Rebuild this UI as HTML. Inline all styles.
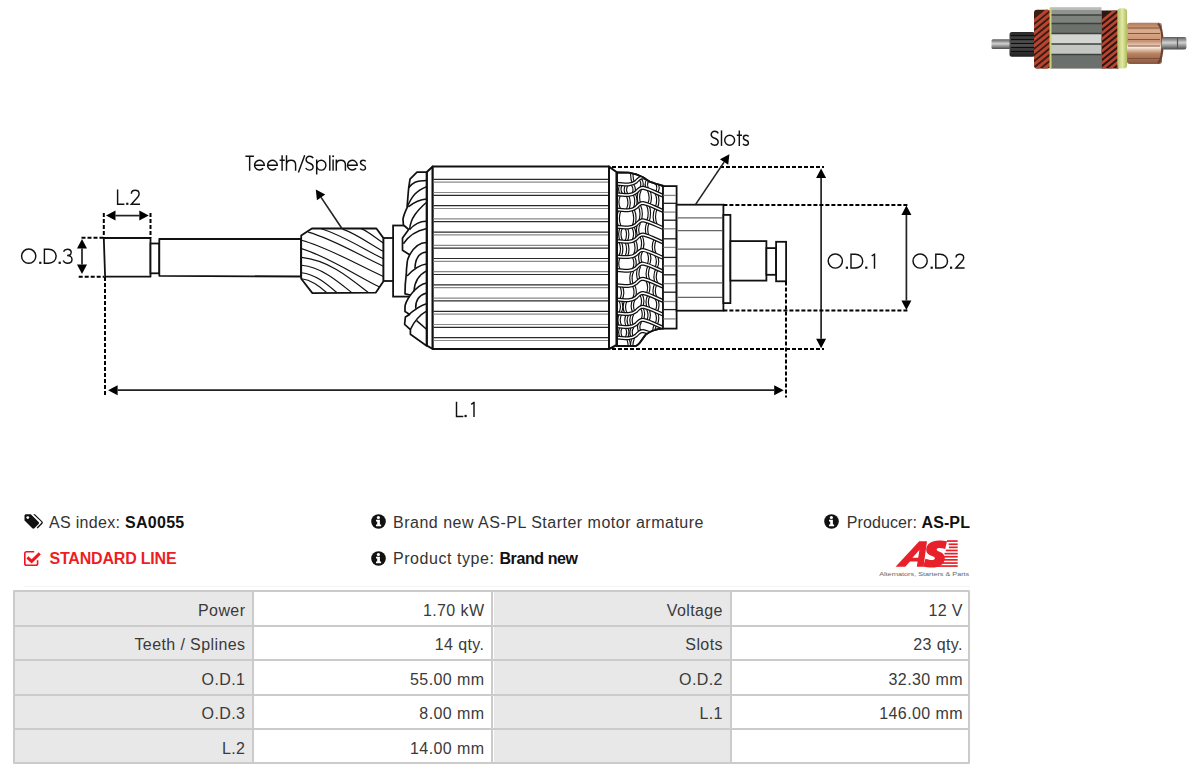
<!DOCTYPE html>
<html><head><meta charset="utf-8"><title>SA0055</title>
<style>
html,body{margin:0;padding:0;background:#fff;width:1196px;height:776px;overflow:hidden;position:relative;font-family:"Liberation Sans",sans-serif}
.t{position:absolute;white-space:nowrap;font-size:16px;line-height:17px;color:#333}
.t b{color:#111}
.tc{position:absolute;white-space:nowrap;font-size:16px;line-height:17px;color:#3a3a3a;letter-spacing:0.4px;margin-right:-0.4px}
svg text{font-family:"Liberation Sans",sans-serif;fill:#111;stroke:#fff;stroke-width:0.25px}
</style></head><body>
<svg width="1196" height="80" style="position:absolute;left:0;top:0">
<defs>
<linearGradient id="sh" x1="0" y1="0" x2="0" y2="1"><stop offset="0" stop-color="#5d5d5d"/><stop offset="0.45" stop-color="#d0d0d0"/><stop offset="1" stop-color="#4a4a4a"/></linearGradient>
<linearGradient id="cu" x1="0" y1="0" x2="0" y2="1"><stop offset="0" stop-color="#b07a5a"/><stop offset="0.2" stop-color="#dcae8e"/><stop offset="0.45" stop-color="#c89272"/><stop offset="0.6" stop-color="#f6e8dc"/><stop offset="0.75" stop-color="#b8825f"/><stop offset="1" stop-color="#8a5840"/></linearGradient>
<linearGradient id="pin" x1="0" y1="0" x2="0" y2="1"><stop offset="0" stop-color="#2a2a2a"/><stop offset="0.5" stop-color="#555"/><stop offset="1" stop-color="#1e1e1e"/></linearGradient>
<linearGradient id="gr" x1="0" y1="0" x2="1" y2="0"><stop offset="0" stop-color="#b3c064"/><stop offset="0.5" stop-color="#e2eaa8"/><stop offset="1" stop-color="#b0bc5e"/></linearGradient>
</defs>
<rect x="991.5" y="39.3" width="19" height="9.8" rx="1.5" fill="url(#sh)"/>
<rect x="1009.5" y="32" width="25.5" height="24.7" rx="2.5" fill="url(#pin)"/>
<line x1="1011" y1="35.5" x2="1035" y2="35.5" stroke="#0e0e0e" stroke-width="1.2"/>
<line x1="1011" y1="39.5" x2="1035" y2="39.5" stroke="#0e0e0e" stroke-width="1.2"/>
<line x1="1011" y1="43.5" x2="1035" y2="43.5" stroke="#0e0e0e" stroke-width="1.2"/>
<line x1="1011" y1="47.5" x2="1035" y2="47.5" stroke="#0e0e0e" stroke-width="1.2"/>
<line x1="1011" y1="51.5" x2="1035" y2="51.5" stroke="#0e0e0e" stroke-width="1.2"/>
<clipPath id="lwc"><rect x="1034" y="9.8" width="16.5" height="58.8" rx="3"/></clipPath><clipPath id="rwc2"><rect x="1101.5" y="10.5" width="17" height="58"/></clipPath>
<rect x="1034" y="9.8" width="16.5" height="58.8" rx="3" fill="#3c1c15"/>
<g clip-path="url(#lwc)">
<path d="M1034,21.0 L1050,8.0" stroke="#b8452f" stroke-width="3" stroke-linecap="round"/>
<path d="M1034,27.2 L1050,14.2" stroke="#b8452f" stroke-width="3" stroke-linecap="round"/>
<path d="M1034,33.4 L1050,20.4" stroke="#b8452f" stroke-width="3" stroke-linecap="round"/>
<path d="M1034,39.6 L1050,26.6" stroke="#b8452f" stroke-width="3" stroke-linecap="round"/>
<path d="M1034,45.8 L1050,32.8" stroke="#b8452f" stroke-width="3" stroke-linecap="round"/>
<path d="M1034,52.0 L1050,39.0" stroke="#b8452f" stroke-width="3" stroke-linecap="round"/>
<path d="M1034,58.2 L1050,45.2" stroke="#b8452f" stroke-width="3" stroke-linecap="round"/>
<path d="M1034,64.4 L1050,51.4" stroke="#b8452f" stroke-width="3" stroke-linecap="round"/>
<path d="M1034,70.6 L1050,57.6" stroke="#b8452f" stroke-width="3" stroke-linecap="round"/>
<path d="M1034,76.8 L1050,63.8" stroke="#b8452f" stroke-width="3" stroke-linecap="round"/>
<path d="M1034,83.0 L1050,70.0" stroke="#b8452f" stroke-width="3" stroke-linecap="round"/>
</g>
<rect x="1050" y="7.2" width="51.5" height="2.8" fill="#b9bcb8"/>
<rect x="1050" y="10" width="51.5" height="5.0" fill="#8f948f"/>
<rect x="1050" y="15" width="51.5" height="8.5" fill="#7d827d"/>
<rect x="1050" y="23.5" width="51.5" height="10.0" fill="#6c716c"/>
<rect x="1050" y="33.5" width="51.5" height="10.5" fill="#d2d5d0"/>
<rect x="1050" y="44" width="51.5" height="10.5" fill="#c3c6c1"/>
<rect x="1050" y="54.5" width="51.5" height="14.1" fill="#6c706c"/>
<line x1="1050" y1="15" x2="1101.5" y2="15" stroke="#3d413d" stroke-width="1.3"/>
<line x1="1050" y1="23.5" x2="1101.5" y2="23.5" stroke="#3d413d" stroke-width="1.3"/>
<line x1="1050" y1="33.5" x2="1101.5" y2="33.5" stroke="#3d413d" stroke-width="1.3"/>
<line x1="1050" y1="44" x2="1101.5" y2="44" stroke="#3d413d" stroke-width="1.3"/>
<line x1="1050" y1="54.5" x2="1101.5" y2="54.5" stroke="#3d413d" stroke-width="1.3"/>
<rect x="1049.5" y="8" width="2" height="60.6" fill="#c8d27a"/>
<rect x="1101.5" y="10.5" width="17" height="58" fill="#2e1612"/>
<g clip-path="url(#rwc2)">
<path d="M1102,21.0 L1118,8.0" stroke="#b8452f" stroke-width="2.8" stroke-linecap="round"/>
<path d="M1102,27.0 L1118,14.0" stroke="#b8452f" stroke-width="2.8" stroke-linecap="round"/>
<path d="M1102,33.0 L1118,20.0" stroke="#b8452f" stroke-width="2.8" stroke-linecap="round"/>
<path d="M1102,39.0 L1118,26.0" stroke="#b8452f" stroke-width="2.8" stroke-linecap="round"/>
<path d="M1102,45.0 L1118,32.0" stroke="#b8452f" stroke-width="2.8" stroke-linecap="round"/>
<path d="M1102,51.0 L1118,38.0" stroke="#b8452f" stroke-width="2.8" stroke-linecap="round"/>
<path d="M1102,57.0 L1118,44.0" stroke="#b8452f" stroke-width="2.8" stroke-linecap="round"/>
<path d="M1102,63.0 L1118,50.0" stroke="#b8452f" stroke-width="2.8" stroke-linecap="round"/>
<path d="M1102,69.0 L1118,56.0" stroke="#b8452f" stroke-width="2.8" stroke-linecap="round"/>
<path d="M1102,75.0 L1118,62.0" stroke="#b8452f" stroke-width="2.8" stroke-linecap="round"/>
<path d="M1102,81.0 L1118,68.0" stroke="#b8452f" stroke-width="2.8" stroke-linecap="round"/>
</g>
<rect x="1117.3" y="8.2" width="9.8" height="60.4" rx="3.5" fill="url(#gr)"/>
<rect x="1127" y="22.7" width="35" height="41.2" rx="3" fill="url(#cu)"/>
<line x1="1128" y1="28" x2="1160" y2="28" stroke="#7a4c38" stroke-width="0.9"/>
<line x1="1128" y1="33.5" x2="1160" y2="33.5" stroke="#7a4c38" stroke-width="0.9"/>
<line x1="1128" y1="39.5" x2="1160" y2="39.5" stroke="#7a4c38" stroke-width="0.9"/>
<line x1="1128" y1="46" x2="1160" y2="46" stroke="#7a4c38" stroke-width="0.9"/>
<line x1="1128" y1="58.5" x2="1160" y2="58.5" stroke="#7a4c38" stroke-width="0.9"/>
<path d="M1158,23.5 C1161,26 1162.5,33 1162.5,43.3 C1162.5,53.6 1161,60.6 1158,63" fill="none" stroke="#6e4030" stroke-width="2.2"/>
<rect x="1162" y="37.1" width="24.4" height="12.4" rx="2" fill="url(#sh)"/>
<line x1="1177.5" y1="38" x2="1177.5" y2="49" stroke="#555" stroke-width="1.2"/>
</svg>
<svg width="1196" height="460" style="position:absolute;left:0;top:0">
<path d="M103.8,238 L150.5,238 L150.5,276.7 L105.1,276.7 Z" fill="#fff" stroke="#111" stroke-width="1.8" stroke-linejoin="round" />
<rect x="150.5" y="243.5" width="8.80" height="29.80" fill="#fff" stroke="#111" stroke-width="1.8"/>
<path d="M159.3,239 L301,239 L301,276.5 L159.3,275.8 Z" fill="#fff" stroke="#111" stroke-width="1.8" stroke-linejoin="round" />
<rect x="393.1" y="225.5" width="18.90" height="71.10" fill="#fff" stroke="#111" stroke-width="1.8"/>
<rect x="383.3" y="238" width="9.80" height="43.00" fill="#fff" stroke="#111" stroke-width="1.8"/>
<path d="M301.2,235.6 L311.9,228.5 L376.4,228.5 L383.3,237.9 L383.3,281.5 L375.9,292.6 L312.4,293.1 L301.2,278.7 Z" fill="#fff" stroke="#111" stroke-width="1.8" stroke-linejoin="round" />
<path d="M361.08,228.64 C368.43,231.51 376.66,238.70 383.34,243.02" fill="none" stroke="#111" stroke-width="1.15" stroke-linejoin="round" />
<path d="M342.53,229.10 C356.00,233.55 371.10,244.69 383.34,251.37" fill="none" stroke="#111" stroke-width="1.15" stroke-linejoin="round" />
<path d="M321.19,228.82 C341.70,234.82 364.70,249.80 383.34,258.79" fill="none" stroke="#111" stroke-width="1.15" stroke-linejoin="round" />
<path d="M308.20,232.16 C333.00,238.97 360.80,255.99 383.34,266.21" fill="none" stroke="#111" stroke-width="1.15" stroke-linejoin="round" />
<path d="M301.53,240.23 C328.53,247.47 358.80,265.56 383.34,276.41" fill="none" stroke="#111" stroke-width="1.15" stroke-linejoin="round" />
<path d="M301.53,248.58 C327.30,256.28 356.20,275.53 379.63,287.08" fill="none" stroke="#111" stroke-width="1.15" stroke-linejoin="round" />
<path d="M301.53,257.40 C328.32,260.22 348.41,276.78 368.50,292.65" fill="none" stroke="#111" stroke-width="1.15" stroke-linejoin="round" />
<path d="M301.53,265.28 C321.64,267.47 336.72,280.33 351.80,292.65" fill="none" stroke="#111" stroke-width="1.15" stroke-linejoin="round" />
<path d="M301.53,272.70 C315.70,274.30 326.33,283.67 336.96,292.65" fill="none" stroke="#111" stroke-width="1.15" stroke-linejoin="round" />
<path d="M301.53,278.73 C311.62,279.84 319.19,286.38 326.76,292.65" fill="none" stroke="#111" stroke-width="1.15" stroke-linejoin="round" />
<path d="M426.9,172 L432.7,166.6 L432.7,349 L426.9,345.7 Z" fill="#fff" stroke="#111" stroke-width="2" stroke-linejoin="round" />
<path d="M432.7,166.6 L609,166.6 L609,349 L432.7,349 Z" fill="#fff" stroke="#111" stroke-width="2" stroke-linejoin="round" />
<line x1="433.5" y1="179.30" x2="608.5" y2="179.30" stroke="#2a2a2a" stroke-width="1.2"/>
<line x1="433.5" y1="182.10" x2="608.5" y2="182.10" stroke="#8a8a8a" stroke-width="1.2"/>
<line x1="433.5" y1="192.50" x2="608.5" y2="192.50" stroke="#8a8a8a" stroke-width="1.2"/>
<line x1="433.5" y1="195.30" x2="608.5" y2="195.30" stroke="#2a2a2a" stroke-width="1.2"/>
<line x1="433.5" y1="205.70" x2="608.5" y2="205.70" stroke="#2a2a2a" stroke-width="1.2"/>
<line x1="433.5" y1="208.50" x2="608.5" y2="208.50" stroke="#8a8a8a" stroke-width="1.2"/>
<line x1="433.5" y1="218.90" x2="608.5" y2="218.90" stroke="#8a8a8a" stroke-width="1.2"/>
<line x1="433.5" y1="221.70" x2="608.5" y2="221.70" stroke="#2a2a2a" stroke-width="1.2"/>
<line x1="433.5" y1="232.10" x2="608.5" y2="232.10" stroke="#2a2a2a" stroke-width="1.2"/>
<line x1="433.5" y1="234.90" x2="608.5" y2="234.90" stroke="#8a8a8a" stroke-width="1.2"/>
<line x1="433.5" y1="245.30" x2="608.5" y2="245.30" stroke="#8a8a8a" stroke-width="1.2"/>
<line x1="433.5" y1="248.10" x2="608.5" y2="248.10" stroke="#2a2a2a" stroke-width="1.2"/>
<line x1="433.5" y1="258.50" x2="608.5" y2="258.50" stroke="#2a2a2a" stroke-width="1.2"/>
<line x1="433.5" y1="261.30" x2="608.5" y2="261.30" stroke="#8a8a8a" stroke-width="1.2"/>
<line x1="433.5" y1="271.70" x2="608.5" y2="271.70" stroke="#8a8a8a" stroke-width="1.2"/>
<line x1="433.5" y1="274.50" x2="608.5" y2="274.50" stroke="#2a2a2a" stroke-width="1.2"/>
<line x1="433.5" y1="284.90" x2="608.5" y2="284.90" stroke="#2a2a2a" stroke-width="1.2"/>
<line x1="433.5" y1="287.70" x2="608.5" y2="287.70" stroke="#8a8a8a" stroke-width="1.2"/>
<line x1="433.5" y1="298.10" x2="608.5" y2="298.10" stroke="#8a8a8a" stroke-width="1.2"/>
<line x1="433.5" y1="300.90" x2="608.5" y2="300.90" stroke="#2a2a2a" stroke-width="1.2"/>
<line x1="433.5" y1="311.30" x2="608.5" y2="311.30" stroke="#2a2a2a" stroke-width="1.2"/>
<line x1="433.5" y1="314.10" x2="608.5" y2="314.10" stroke="#8a8a8a" stroke-width="1.2"/>
<line x1="433.5" y1="324.50" x2="608.5" y2="324.50" stroke="#8a8a8a" stroke-width="1.2"/>
<line x1="433.5" y1="327.30" x2="608.5" y2="327.30" stroke="#2a2a2a" stroke-width="1.2"/>
<line x1="433.5" y1="337.70" x2="608.5" y2="337.70" stroke="#2a2a2a" stroke-width="1.2"/>
<line x1="433.5" y1="340.50" x2="608.5" y2="340.50" stroke="#8a8a8a" stroke-width="1.2"/>
<path d="M609,166.6 L616.8,172.2 L616.8,345 L609,349 Z" fill="#fff" stroke="#111" stroke-width="2" stroke-linejoin="round" />
<path d="M426.5,172.1 L417,172.1 L410,179.1 L408.7,187.8 C408,195 407.5,202 407.1,207.6 C405,212 403.5,216 403,219.2 L403.4,225 L408.7,229.5 L402.5,237.9 L402.5,250.3 L409.6,254.8 C407.5,259 407,262 407.1,263.5 C406.5,268 406.3,271 406.3,274.2 C405.5,280 405,286 405,293.8 L410.4,295 C407,300 405,304 405,307 L405,311.5 L409.6,314.4 L405.4,316.9 L404.6,324.3 L410.4,329.7 L410.4,334.2 L426.5,345.8 Z" fill="#fff" stroke="#111" stroke-width="1.7" stroke-linejoin="round" />
<path d="M408.7,187.8 C412.5,183 416,180.4 426.5,180.4" fill="none" stroke="#111" stroke-width="1.5" stroke-linejoin="round" />
<path d="M407.3,206.8 C412,196 416,191 426.5,186.6" fill="none" stroke="#111" stroke-width="1.5" stroke-linejoin="round" />
<path d="M408.3,206.8 C414.5,202 419,199.5 426.5,199" fill="none" stroke="#111" stroke-width="1.5" stroke-linejoin="round" />
<path d="M409.6,229.5 C410.4,218 417.8,210 426,202.7" fill="none" stroke="#111" stroke-width="1.5" stroke-linejoin="round" />
<path d="M409.6,229.5 C414.5,224 419.5,221 426.5,221.2" fill="none" stroke="#111" stroke-width="1.5" stroke-linejoin="round" />
<path d="M403.4,243.7 C408.7,236 415,231 426,228.8" fill="none" stroke="#111" stroke-width="1.5" stroke-linejoin="round" />
<path d="M409.6,254.8 C414.5,246 419.5,242.4 426.5,242.4" fill="none" stroke="#111" stroke-width="1.5" stroke-linejoin="round" />
<path d="M414.9,268.4 C415.3,258 419.5,252.5 426.5,251.9" fill="none" stroke="#111" stroke-width="1.5" stroke-linejoin="round" />
<path d="M407.1,275.9 C413.5,269 421,264.5 426.5,263.9" fill="none" stroke="#111" stroke-width="1.5" stroke-linejoin="round" />
<path d="M414,291.5 C414.5,280 419.5,274.5 426.5,270.9" fill="none" stroke="#111" stroke-width="1.5" stroke-linejoin="round" />
<path d="M410.4,295 C415,289 420,284 426.5,282.9" fill="none" stroke="#111" stroke-width="1.5" stroke-linejoin="round" />
<path d="M415.7,308.6 C415.3,300 419.5,295 426.5,293" fill="none" stroke="#111" stroke-width="1.5" stroke-linejoin="round" />
<path d="M407.1,316 C414.5,309.5 421,305 426.5,303.7" fill="none" stroke="#111" stroke-width="1.5" stroke-linejoin="round" />
<path d="M410.4,329.3 C414.5,321 420.3,314.5 426.5,311.1" fill="none" stroke="#111" stroke-width="1.5" stroke-linejoin="round" />
<path d="M416.6,320.6 L426.5,329.3" fill="none" stroke="#111" stroke-width="1.5" stroke-linejoin="round" />
<path d="M616.8,172.5 L628.8,172.6 C635,173.5 639,175 643,177.2 C646,179 648,180.8 650,181.8 C655,183.5 659,185 663.5,186 L663.5,328.3 C657,329 650,331 646.2,334.2 C642,339 639,346 635.7,346 L616.8,346 Z" fill="#fff" stroke="#111" stroke-width="1.8" stroke-linejoin="round" />
<clipPath id="rwc"><path d="M616.8,172.5 L628.8,172.6 C635,173.5 639,175 643,177.2 C646,179 648,180.8 650,181.8 C655,183.5 659,185 663.5,186 L663.5,328.3 C657,329 650,331 646.2,334.2 C642,339 639,346 635.7,346 L616.8,346 Z"/></clipPath><g clip-path="url(#rwc)">
<path d="M633.59,165.92 Q629.99,174.77 633.59,183.62" fill="none" stroke="#111" stroke-width="3.5"/>
<path d="M633.59,165.92 Q629.99,174.77 633.59,183.62" fill="none" stroke="#fff" stroke-width="1.2"/>
<path d="M647.01,161.03 Q643.41,169.88 647.01,178.73" fill="none" stroke="#111" stroke-width="3.5"/>
<path d="M647.01,161.03 Q643.41,169.88 647.01,178.73" fill="none" stroke="#fff" stroke-width="1.2"/>
<path d="M655.02,164.08 Q651.42,172.93 655.02,181.78" fill="none" stroke="#111" stroke-width="3.5"/>
<path d="M655.02,164.08 Q651.42,172.93 655.02,181.78" fill="none" stroke="#fff" stroke-width="1.2"/>
<path d="M621.57,184.00 Q617.97,189.30 621.57,194.60" fill="none" stroke="#111" stroke-width="3.5"/>
<path d="M621.57,184.00 Q617.97,189.30 621.57,194.60" fill="none" stroke="#fff" stroke-width="1.2"/>
<path d="M627.19,184.38 Q623.59,189.68 627.19,194.98" fill="none" stroke="#111" stroke-width="3.5"/>
<path d="M627.19,184.38 Q623.59,189.68 627.19,194.98" fill="none" stroke="#fff" stroke-width="1.2"/>
<path d="M632.41,184.42 Q636.01,189.72 632.41,195.02" fill="none" stroke="#111" stroke-width="3.5"/>
<path d="M632.41,184.42 Q636.01,189.72 632.41,195.02" fill="none" stroke="#fff" stroke-width="1.2"/>
<path d="M640.31,179.04 Q643.91,184.34 640.31,189.64" fill="none" stroke="#111" stroke-width="3.5"/>
<path d="M640.31,179.04 Q643.91,184.34 640.31,189.64" fill="none" stroke="#fff" stroke-width="1.2"/>
<path d="M648.14,179.16 Q644.54,184.46 648.14,189.76" fill="none" stroke="#111" stroke-width="3.5"/>
<path d="M648.14,179.16 Q644.54,184.46 648.14,189.76" fill="none" stroke="#fff" stroke-width="1.2"/>
<path d="M656.20,182.23 Q659.80,187.53 656.20,192.83" fill="none" stroke="#111" stroke-width="3.5"/>
<path d="M656.20,182.23 Q659.80,187.53 656.20,192.83" fill="none" stroke="#fff" stroke-width="1.2"/>
<path d="M619.53,194.47 Q615.93,202.07 619.53,209.67" fill="none" stroke="#111" stroke-width="3.5"/>
<path d="M619.53,194.47 Q615.93,202.07 619.53,209.67" fill="none" stroke="#fff" stroke-width="1.2"/>
<path d="M627.29,194.99 Q630.89,202.59 627.29,210.19" fill="none" stroke="#111" stroke-width="3.5"/>
<path d="M627.29,194.99 Q630.89,202.59 627.29,210.19" fill="none" stroke="#fff" stroke-width="1.2"/>
<path d="M634.17,193.82 Q637.77,201.42 634.17,209.02" fill="none" stroke="#111" stroke-width="3.5"/>
<path d="M634.17,193.82 Q637.77,201.42 634.17,209.02" fill="none" stroke="#fff" stroke-width="1.2"/>
<path d="M640.17,189.73 Q636.57,197.33 640.17,204.93" fill="none" stroke="#111" stroke-width="3.5"/>
<path d="M640.17,189.73 Q636.57,197.33 640.17,204.93" fill="none" stroke="#fff" stroke-width="1.2"/>
<path d="M648.48,189.89 Q652.08,197.49 648.48,205.09" fill="none" stroke="#111" stroke-width="3.5"/>
<path d="M648.48,189.89 Q652.08,197.49 648.48,205.09" fill="none" stroke="#fff" stroke-width="1.2"/>
<path d="M656.06,192.78 Q659.66,200.38 656.06,207.98" fill="none" stroke="#111" stroke-width="3.5"/>
<path d="M656.06,192.78 Q659.66,200.38 656.06,207.98" fill="none" stroke="#fff" stroke-width="1.2"/>
<path d="M619.99,209.70 Q616.39,218.30 619.99,226.90" fill="none" stroke="#111" stroke-width="3.5"/>
<path d="M619.99,209.70 Q616.39,218.30 619.99,226.90" fill="none" stroke="#fff" stroke-width="1.2"/>
<path d="M633.12,209.74 Q636.72,218.34 633.12,226.94" fill="none" stroke="#111" stroke-width="3.5"/>
<path d="M633.12,209.74 Q636.72,218.34 633.12,226.94" fill="none" stroke="#fff" stroke-width="1.2"/>
<path d="M639.39,205.46 Q642.99,214.06 639.39,222.66" fill="none" stroke="#111" stroke-width="3.5"/>
<path d="M639.39,205.46 Q642.99,214.06 639.39,222.66" fill="none" stroke="#fff" stroke-width="1.2"/>
<path d="M647.62,204.76 Q651.22,213.36 647.62,221.96" fill="none" stroke="#111" stroke-width="3.5"/>
<path d="M647.62,204.76 Q651.22,213.36 647.62,221.96" fill="none" stroke="#fff" stroke-width="1.2"/>
<path d="M656.19,208.03 Q652.59,216.63 656.19,225.23" fill="none" stroke="#111" stroke-width="3.5"/>
<path d="M656.19,208.03 Q652.59,216.63 656.19,225.23" fill="none" stroke="#fff" stroke-width="1.2"/>
<path d="M621.57,227.00 Q617.97,234.15 621.57,241.30" fill="none" stroke="#111" stroke-width="3.5"/>
<path d="M621.57,227.00 Q617.97,234.15 621.57,241.30" fill="none" stroke="#fff" stroke-width="1.2"/>
<path d="M625.95,227.30 Q629.55,234.45 625.95,241.60" fill="none" stroke="#111" stroke-width="3.5"/>
<path d="M625.95,227.30 Q629.55,234.45 625.95,241.60" fill="none" stroke="#fff" stroke-width="1.2"/>
<path d="M632.98,227.03 Q636.58,234.18 632.98,241.33" fill="none" stroke="#111" stroke-width="3.5"/>
<path d="M632.98,227.03 Q636.58,234.18 632.98,241.33" fill="none" stroke="#fff" stroke-width="1.2"/>
<path d="M639.35,222.69 Q635.75,229.84 639.35,236.99" fill="none" stroke="#111" stroke-width="3.5"/>
<path d="M639.35,222.69 Q635.75,229.84 639.35,236.99" fill="none" stroke="#fff" stroke-width="1.2"/>
<path d="M648.27,222.21 Q644.67,229.36 648.27,236.51" fill="none" stroke="#111" stroke-width="3.5"/>
<path d="M648.27,222.21 Q644.67,229.36 648.27,236.51" fill="none" stroke="#fff" stroke-width="1.2"/>
<path d="M619.89,241.19 Q623.49,248.89 619.89,256.59" fill="none" stroke="#111" stroke-width="3.5"/>
<path d="M619.89,241.19 Q623.49,248.89 619.89,256.59" fill="none" stroke="#fff" stroke-width="1.2"/>
<path d="M625.99,241.60 Q629.59,249.30 625.99,257.00" fill="none" stroke="#111" stroke-width="3.5"/>
<path d="M625.99,241.60 Q629.59,249.30 625.99,257.00" fill="none" stroke="#fff" stroke-width="1.2"/>
<path d="M634.42,240.35 Q638.02,248.05 634.42,255.75" fill="none" stroke="#111" stroke-width="3.5"/>
<path d="M634.42,240.35 Q638.02,248.05 634.42,255.75" fill="none" stroke="#fff" stroke-width="1.2"/>
<path d="M641.00,235.87 Q644.60,243.57 641.00,251.27" fill="none" stroke="#111" stroke-width="3.5"/>
<path d="M641.00,235.87 Q644.60,243.57 641.00,251.27" fill="none" stroke="#fff" stroke-width="1.2"/>
<path d="M655.22,239.16 Q651.62,246.86 655.22,254.56" fill="none" stroke="#111" stroke-width="3.5"/>
<path d="M655.22,239.16 Q651.62,246.86 655.22,254.56" fill="none" stroke="#fff" stroke-width="1.2"/>
<path d="M619.33,256.56 Q615.73,263.41 619.33,270.26" fill="none" stroke="#111" stroke-width="3.5"/>
<path d="M619.33,256.56 Q615.73,263.41 619.33,270.26" fill="none" stroke="#fff" stroke-width="1.2"/>
<path d="M633.31,256.51 Q636.91,263.36 633.31,270.21" fill="none" stroke="#111" stroke-width="3.5"/>
<path d="M633.31,256.51 Q636.91,263.36 633.31,270.21" fill="none" stroke="#fff" stroke-width="1.2"/>
<path d="M641.59,250.86 Q637.99,257.71 641.59,264.56" fill="none" stroke="#111" stroke-width="3.5"/>
<path d="M641.59,250.86 Q637.99,257.71 641.59,264.56" fill="none" stroke="#fff" stroke-width="1.2"/>
<path d="M647.90,251.77 Q651.50,258.62 647.90,265.47" fill="none" stroke="#111" stroke-width="3.5"/>
<path d="M647.90,251.77 Q651.50,258.62 647.90,265.47" fill="none" stroke="#fff" stroke-width="1.2"/>
<path d="M655.76,254.76 Q659.36,261.61 655.76,268.46" fill="none" stroke="#111" stroke-width="3.5"/>
<path d="M655.76,254.76 Q659.36,261.61 655.76,268.46" fill="none" stroke="#fff" stroke-width="1.2"/>
<path d="M632.69,270.63 Q629.09,278.23 632.69,285.83" fill="none" stroke="#111" stroke-width="3.5"/>
<path d="M632.69,270.63 Q629.09,278.23 632.69,285.83" fill="none" stroke="#fff" stroke-width="1.2"/>
<path d="M639.55,265.96 Q635.95,273.56 639.55,281.16" fill="none" stroke="#111" stroke-width="3.5"/>
<path d="M639.55,265.96 Q635.95,273.56 639.55,281.16" fill="none" stroke="#fff" stroke-width="1.2"/>
<path d="M649.08,265.92 Q645.48,273.52 649.08,281.12" fill="none" stroke="#111" stroke-width="3.5"/>
<path d="M649.08,265.92 Q645.48,273.52 649.08,281.12" fill="none" stroke="#fff" stroke-width="1.2"/>
<path d="M656.90,268.89 Q653.30,276.49 656.90,284.09" fill="none" stroke="#111" stroke-width="3.5"/>
<path d="M656.90,268.89 Q653.30,276.49 656.90,284.09" fill="none" stroke="#fff" stroke-width="1.2"/>
<path d="M620.82,285.55 Q624.42,292.65 620.82,299.75" fill="none" stroke="#111" stroke-width="3.5"/>
<path d="M620.82,285.55 Q624.42,292.65 620.82,299.75" fill="none" stroke="#fff" stroke-width="1.2"/>
<path d="M633.47,285.30 Q637.07,292.40 633.47,299.50" fill="none" stroke="#111" stroke-width="3.5"/>
<path d="M633.47,285.30 Q637.07,292.40 633.47,299.50" fill="none" stroke="#fff" stroke-width="1.2"/>
<path d="M647.05,280.34 Q650.65,287.44 647.05,294.54" fill="none" stroke="#111" stroke-width="3.5"/>
<path d="M647.05,280.34 Q650.65,287.44 647.05,294.54" fill="none" stroke="#fff" stroke-width="1.2"/>
<path d="M655.95,283.73 Q652.35,290.83 655.95,297.93" fill="none" stroke="#111" stroke-width="3.5"/>
<path d="M655.95,283.73 Q652.35,290.83 655.95,297.93" fill="none" stroke="#fff" stroke-width="1.2"/>
<path d="M619.79,299.69 Q623.39,306.54 619.79,313.39" fill="none" stroke="#111" stroke-width="3.5"/>
<path d="M619.79,299.69 Q623.39,306.54 619.79,313.39" fill="none" stroke="#fff" stroke-width="1.2"/>
<path d="M626.15,300.11 Q622.55,306.96 626.15,313.81" fill="none" stroke="#111" stroke-width="3.5"/>
<path d="M626.15,300.11 Q622.55,306.96 626.15,313.81" fill="none" stroke="#fff" stroke-width="1.2"/>
<path d="M634.12,299.05 Q630.52,305.90 634.12,312.75" fill="none" stroke="#111" stroke-width="3.5"/>
<path d="M634.12,299.05 Q630.52,305.90 634.12,312.75" fill="none" stroke="#fff" stroke-width="1.2"/>
<path d="M640.97,294.38 Q644.57,301.23 640.97,308.08" fill="none" stroke="#111" stroke-width="3.5"/>
<path d="M640.97,294.38 Q644.57,301.23 640.97,308.08" fill="none" stroke="#fff" stroke-width="1.2"/>
<path d="M648.98,295.28 Q645.38,302.13 648.98,308.98" fill="none" stroke="#111" stroke-width="3.5"/>
<path d="M648.98,295.28 Q645.38,302.13 648.98,308.98" fill="none" stroke="#fff" stroke-width="1.2"/>
<path d="M656.08,297.98 Q659.68,304.83 656.08,311.68" fill="none" stroke="#111" stroke-width="3.5"/>
<path d="M656.08,297.98 Q659.68,304.83 656.08,311.68" fill="none" stroke="#fff" stroke-width="1.2"/>
<path d="M620.83,313.46 Q617.23,320.01 620.83,326.56" fill="none" stroke="#111" stroke-width="3.5"/>
<path d="M620.83,313.46 Q617.23,320.01 620.83,326.56" fill="none" stroke="#fff" stroke-width="1.2"/>
<path d="M627.73,313.92 Q624.13,320.47 627.73,327.02" fill="none" stroke="#111" stroke-width="3.5"/>
<path d="M627.73,313.92 Q624.13,320.47 627.73,327.02" fill="none" stroke="#fff" stroke-width="1.2"/>
<path d="M632.78,313.67 Q629.18,320.22 632.78,326.77" fill="none" stroke="#111" stroke-width="3.5"/>
<path d="M632.78,313.67 Q629.18,320.22 632.78,326.77" fill="none" stroke="#fff" stroke-width="1.2"/>
<path d="M641.68,307.60 Q645.28,314.15 641.68,320.70" fill="none" stroke="#111" stroke-width="3.5"/>
<path d="M641.68,307.60 Q645.28,314.15 641.68,320.70" fill="none" stroke="#fff" stroke-width="1.2"/>
<path d="M647.42,308.38 Q651.02,314.93 647.42,321.48" fill="none" stroke="#111" stroke-width="3.5"/>
<path d="M647.42,308.38 Q651.02,314.93 647.42,321.48" fill="none" stroke="#fff" stroke-width="1.2"/>
<path d="M655.87,311.60 Q659.47,318.15 655.87,324.70" fill="none" stroke="#111" stroke-width="3.5"/>
<path d="M655.87,311.60 Q659.47,318.15 655.87,324.70" fill="none" stroke="#fff" stroke-width="1.2"/>
<path d="M621.59,326.61 Q617.99,332.21 621.59,337.81" fill="none" stroke="#111" stroke-width="3.5"/>
<path d="M621.59,326.61 Q617.99,332.21 621.59,337.81" fill="none" stroke="#fff" stroke-width="1.2"/>
<path d="M626.05,326.90 Q629.65,332.50 626.05,338.10" fill="none" stroke="#111" stroke-width="3.5"/>
<path d="M626.05,326.90 Q629.65,332.50 626.05,338.10" fill="none" stroke="#fff" stroke-width="1.2"/>
<path d="M632.79,326.76 Q629.19,332.36 632.79,337.96" fill="none" stroke="#111" stroke-width="3.5"/>
<path d="M632.79,326.76 Q629.19,332.36 632.79,337.96" fill="none" stroke="#fff" stroke-width="1.2"/>
<path d="M640.45,321.54 Q636.85,327.14 640.45,332.74" fill="none" stroke="#111" stroke-width="3.5"/>
<path d="M640.45,321.54 Q636.85,327.14 640.45,332.74" fill="none" stroke="#fff" stroke-width="1.2"/>
<path d="M655.73,324.65 Q652.13,330.25 655.73,335.85" fill="none" stroke="#111" stroke-width="3.5"/>
<path d="M655.73,324.65 Q652.13,330.25 655.73,335.85" fill="none" stroke="#fff" stroke-width="1.2"/>
<path d="M627.69,338.21 Q631.29,347.46 627.69,356.71" fill="none" stroke="#111" stroke-width="3.5"/>
<path d="M627.69,338.21 Q631.29,347.46 627.69,356.71" fill="none" stroke="#fff" stroke-width="1.2"/>
<path d="M633.41,337.54 Q629.81,346.79 633.41,356.04" fill="none" stroke="#111" stroke-width="3.5"/>
<path d="M633.41,337.54 Q629.81,346.79 633.41,356.04" fill="none" stroke="#fff" stroke-width="1.2"/>
<path d="M656.97,336.32 Q653.37,345.57 656.97,354.82" fill="none" stroke="#111" stroke-width="3.5"/>
<path d="M656.97,336.32 Q653.37,345.57 656.97,354.82" fill="none" stroke="#fff" stroke-width="1.2"/>
<path d="M616,183.70 C626,184.70 632,185.20 636,181.70 C638.5,178.70 640,177.20 643,177.20 C650,178.70 657,182.70 664,185.50" fill="none" stroke="#111" stroke-width="4" stroke-linejoin="round"/>
<path d="M616,183.70 C626,184.70 632,185.20 636,181.70 C638.5,178.70 640,177.20 643,177.20 C650,178.70 657,182.70 664,185.50" fill="none" stroke="#fff" stroke-width="1.5" stroke-linejoin="round"/>
<path d="M616,194.30 C626,195.30 632,195.80 636,192.30 C638.5,189.30 640,187.80 643,187.80 C650,189.30 657,193.30 664,196.10" fill="none" stroke="#111" stroke-width="4" stroke-linejoin="round"/>
<path d="M616,194.30 C626,195.30 632,195.80 636,192.30 C638.5,189.30 640,187.80 643,187.80 C650,189.30 657,193.30 664,196.10" fill="none" stroke="#fff" stroke-width="1.5" stroke-linejoin="round"/>
<path d="M616,209.50 C626,210.50 632,211.00 636,207.50 C638.5,204.50 640,203.00 643,203.00 C650,204.50 657,208.50 664,211.30" fill="none" stroke="#111" stroke-width="4" stroke-linejoin="round"/>
<path d="M616,209.50 C626,210.50 632,211.00 636,207.50 C638.5,204.50 640,203.00 643,203.00 C650,204.50 657,208.50 664,211.30" fill="none" stroke="#fff" stroke-width="1.5" stroke-linejoin="round"/>
<path d="M616,226.70 C626,227.70 632,228.20 636,224.70 C638.5,221.70 640,220.20 643,220.20 C650,221.70 657,225.70 664,228.50" fill="none" stroke="#111" stroke-width="4" stroke-linejoin="round"/>
<path d="M616,226.70 C626,227.70 632,228.20 636,224.70 C638.5,221.70 640,220.20 643,220.20 C650,221.70 657,225.70 664,228.50" fill="none" stroke="#fff" stroke-width="1.5" stroke-linejoin="round"/>
<path d="M616,241.00 C626,242.00 632,242.50 636,239.00 C638.5,236.00 640,234.50 643,234.50 C650,236.00 657,240.00 664,242.80" fill="none" stroke="#111" stroke-width="4" stroke-linejoin="round"/>
<path d="M616,241.00 C626,242.00 632,242.50 636,239.00 C638.5,236.00 640,234.50 643,234.50 C650,236.00 657,240.00 664,242.80" fill="none" stroke="#fff" stroke-width="1.5" stroke-linejoin="round"/>
<path d="M616,256.40 C626,257.40 632,257.90 636,254.40 C638.5,251.40 640,249.90 643,249.90 C650,251.40 657,255.40 664,258.20" fill="none" stroke="#111" stroke-width="4" stroke-linejoin="round"/>
<path d="M616,256.40 C626,257.40 632,257.90 636,254.40 C638.5,251.40 640,249.90 643,249.90 C650,251.40 657,255.40 664,258.20" fill="none" stroke="#fff" stroke-width="1.5" stroke-linejoin="round"/>
<path d="M616,270.10 C626,271.10 632,271.60 636,268.10 C638.5,265.10 640,263.60 643,263.60 C650,265.10 657,269.10 664,271.90" fill="none" stroke="#111" stroke-width="4" stroke-linejoin="round"/>
<path d="M616,270.10 C626,271.10 632,271.60 636,268.10 C638.5,265.10 640,263.60 643,263.60 C650,265.10 657,269.10 664,271.90" fill="none" stroke="#fff" stroke-width="1.5" stroke-linejoin="round"/>
<path d="M616,285.30 C626,286.30 632,286.80 636,283.30 C638.5,280.30 640,278.80 643,278.80 C650,280.30 657,284.30 664,287.10" fill="none" stroke="#111" stroke-width="4" stroke-linejoin="round"/>
<path d="M616,285.30 C626,286.30 632,286.80 636,283.30 C638.5,280.30 640,278.80 643,278.80 C650,280.30 657,284.30 664,287.10" fill="none" stroke="#fff" stroke-width="1.5" stroke-linejoin="round"/>
<path d="M616,299.50 C626,300.50 632,301.00 636,297.50 C638.5,294.50 640,293.00 643,293.00 C650,294.50 657,298.50 664,301.30" fill="none" stroke="#111" stroke-width="4" stroke-linejoin="round"/>
<path d="M616,299.50 C626,300.50 632,301.00 636,297.50 C638.5,294.50 640,293.00 643,293.00 C650,294.50 657,298.50 664,301.30" fill="none" stroke="#fff" stroke-width="1.5" stroke-linejoin="round"/>
<path d="M616,313.20 C626,314.20 632,314.70 636,311.20 C638.5,308.20 640,306.70 643,306.70 C650,308.20 657,312.20 664,315.00" fill="none" stroke="#111" stroke-width="4" stroke-linejoin="round"/>
<path d="M616,313.20 C626,314.20 632,314.70 636,311.20 C638.5,308.20 640,306.70 643,306.70 C650,308.20 657,312.20 664,315.00" fill="none" stroke="#fff" stroke-width="1.5" stroke-linejoin="round"/>
<path d="M616,326.30 C626,327.30 632,327.80 636,324.30 C638.5,321.30 640,319.80 643,319.80 C650,321.30 657,325.30 664,328.10" fill="none" stroke="#111" stroke-width="4" stroke-linejoin="round"/>
<path d="M616,326.30 C626,327.30 632,327.80 636,324.30 C638.5,321.30 640,319.80 643,319.80 C650,321.30 657,325.30 664,328.10" fill="none" stroke="#fff" stroke-width="1.5" stroke-linejoin="round"/>
<path d="M616,337.50 C626,338.50 632,339.00 636,335.50 C638.5,332.50 640,331.00 643,331.00 C650,332.50 657,336.50 664,339.30" fill="none" stroke="#111" stroke-width="4" stroke-linejoin="round"/>
<path d="M616,337.50 C626,338.50 632,339.00 636,335.50 C638.5,332.50 640,331.00 643,331.00 C650,332.50 657,336.50 664,339.30" fill="none" stroke="#fff" stroke-width="1.5" stroke-linejoin="round"/>
</g>
<path d="M616.8,172.5 L628.8,172.6 C635,173.5 639,175 643,177.2 C646,179 648,180.8 650,181.8 C655,183.5 659,185 663.5,186 L663.5,328.3 C657,329 650,331 646.2,334.2 C642,339 639,346 635.7,346 L616.8,346 Z" fill="none" stroke="#111" stroke-width="1.8" stroke-linejoin="round" />
<line x1="616.8" y1="172.5" x2="616.8" y2="346" stroke="#111" stroke-width="2.2"/>
<rect x="663" y="186.1" width="13.60" height="142.50" fill="#fff" stroke="#111" stroke-width="1.8"/>
<line x1="663.5" y1="195.4" x2="676" y2="195.4" stroke="#888" stroke-width="1.3"/>
<line x1="663.5" y1="203.3" x2="676" y2="203.3" stroke="#222" stroke-width="1.3"/>
<line x1="663.5" y1="212.1" x2="676" y2="212.1" stroke="#888" stroke-width="1.3"/>
<line x1="663.5" y1="220.2" x2="676" y2="220.2" stroke="#222" stroke-width="1.3"/>
<line x1="663.5" y1="228.8" x2="676" y2="228.8" stroke="#888" stroke-width="1.3"/>
<line x1="663.5" y1="238.8" x2="676" y2="238.8" stroke="#222" stroke-width="1.3"/>
<line x1="663.5" y1="247.4" x2="676" y2="247.4" stroke="#888" stroke-width="1.3"/>
<line x1="663.5" y1="257.4" x2="676" y2="257.4" stroke="#222" stroke-width="1.3"/>
<line x1="663.5" y1="266" x2="676" y2="266" stroke="#888" stroke-width="1.3"/>
<line x1="663.5" y1="274.8" x2="676" y2="274.8" stroke="#222" stroke-width="1.3"/>
<line x1="663.5" y1="283.6" x2="676" y2="283.6" stroke="#888" stroke-width="1.3"/>
<line x1="663.5" y1="292.2" x2="676" y2="292.2" stroke="#222" stroke-width="1.3"/>
<line x1="663.5" y1="301.5" x2="676" y2="301.5" stroke="#888" stroke-width="1.3"/>
<line x1="663.5" y1="309.6" x2="676" y2="309.6" stroke="#222" stroke-width="1.3"/>
<line x1="663.5" y1="318.9" x2="676" y2="318.9" stroke="#888" stroke-width="1.3"/>
<rect x="676.6" y="204.7" width="46.80" height="106.00" fill="#fff" stroke="#111" stroke-width="1.8"/>
<line x1="677.5" y1="217.9" x2="722.5" y2="217.9" stroke="#666" stroke-width="1.2"/>
<line x1="677.5" y1="230.7" x2="722.5" y2="230.7" stroke="#666" stroke-width="1.2"/>
<line x1="677.5" y1="249.2" x2="722.5" y2="249.2" stroke="#666" stroke-width="1.2"/>
<line x1="677.5" y1="266" x2="722.5" y2="266" stroke="#666" stroke-width="1.2"/>
<line x1="677.5" y1="282.9" x2="722.5" y2="282.9" stroke="#666" stroke-width="1.2"/>
<line x1="677.5" y1="297.3" x2="722.5" y2="297.3" stroke="#666" stroke-width="1.2"/>
<rect x="723.4" y="214.9" width="7.00" height="88.20" fill="#fff" stroke="#111" stroke-width="1.8"/>
<rect x="730.4" y="241.1" width="36.00" height="39.50" fill="#fff" stroke="#111" stroke-width="1.8"/>
<rect x="766.4" y="248.1" width="9.70" height="26.70" fill="#fff" stroke="#111" stroke-width="1.8"/>
<rect x="776.1" y="241.8" width="10.00" height="39.50" fill="#fff" stroke="#111" stroke-width="1.8"/>
<line x1="103.8" y1="213" x2="103.8" y2="238" stroke="#000" stroke-width="2" stroke-dasharray="4 2"/>
<line x1="150.5" y1="213" x2="150.5" y2="238" stroke="#000" stroke-width="2" stroke-dasharray="4 2"/>
<line x1="115.50" y1="215.60" x2="139.30" y2="215.60" stroke="#222" stroke-width="1.7"/>
<polygon points="148.80,215.60 139.30,220.60 139.30,210.60" fill="#000"/>
<polygon points="106.00,215.60 115.50,210.60 115.50,220.60" fill="#000"/>
<path transform="translate(116.90,204.90)" d="M0.7,-15.3 V-0.7 H7.5" fill="none" stroke="#111" stroke-width="1.45" stroke-linecap="butt" stroke-linejoin="miter"/>
<rect x="126.20" y="202.70" width="2.2" height="2.2" fill="#111"/>
<path transform="translate(130.50,204.90)" d="M0.9,-11.2 C0.9,-13.3 2.6,-14.6 4.7,-14.6 C6.9,-14.6 8.6,-13.2 8.6,-11 C8.6,-9.6 7.9,-8.6 6.9,-7.5 L0.8,-0.7 H9.5" fill="none" stroke="#111" stroke-width="1.45" stroke-linecap="butt" stroke-linejoin="miter"/>
<line x1="81.5" y1="237.8" x2="104" y2="237.8" stroke="#000" stroke-width="2" stroke-dasharray="4 2"/>
<line x1="78.7" y1="276.7" x2="104" y2="276.7" stroke="#000" stroke-width="2" stroke-dasharray="4 2"/>
<line x1="82.00" y1="248.50" x2="82.00" y2="264.50" stroke="#222" stroke-width="1.7"/>
<polygon points="82.00,274.00 77.00,264.50 87.00,264.50" fill="#000"/>
<polygon points="82.00,239.00 87.00,248.50 77.00,248.50" fill="#000"/>
<path transform="translate(20.90,263.90)" d="M0.7,-7.75 A7.1,7.1 0 1 1 14.9,-7.75 A7.1,7.1 0 1 1 0.7,-7.75" fill="none" stroke="#111" stroke-width="1.45" stroke-linecap="butt" stroke-linejoin="miter"/>
<rect x="39.20" y="261.70" width="2.2" height="2.2" fill="#111"/>
<path transform="translate(43.70,263.90)" d="M0.7,-14.6 V-0.7 H5 C9.3,-0.7 12.4,-3.6 12.4,-7.65 C12.4,-11.7 9.3,-14.6 5,-14.6 Z" fill="none" stroke="#111" stroke-width="1.45" stroke-linecap="butt" stroke-linejoin="miter"/>
<rect x="58.60" y="261.70" width="2.2" height="2.2" fill="#111"/>
<path transform="translate(63.00,263.90)" d="M0.5,-12.3 C1.1,-13.6 2.6,-14.6 4.4,-14.6 C6.6,-14.6 8.2,-13.1 8.2,-11.3 C8.2,-9.5 6.6,-8.4 4.1,-8.4 C6.9,-8.4 9,-6.7 9,-4.4 C9,-2.2 7,-0.7 4.5,-0.7 C2.5,-0.7 0.9,-1.8 0.2,-3.4" fill="none" stroke="#111" stroke-width="1.45" stroke-linecap="butt" stroke-linejoin="miter"/>
<line x1="105" y1="277" x2="105" y2="397" stroke="#000" stroke-width="2" stroke-dasharray="4 2"/>
<line x1="786" y1="281.5" x2="786" y2="397.5" stroke="#000" stroke-width="2" stroke-dasharray="4 2"/>
<line x1="117.60" y1="390.20" x2="774.20" y2="390.20" stroke="#222" stroke-width="1.7"/>
<polygon points="783.70,390.20 774.20,395.20 774.20,385.20" fill="#000"/>
<polygon points="108.10,390.20 117.60,385.20 117.60,395.20" fill="#000"/>
<path transform="translate(455.80,417.10)" d="M0.7,-15.3 V-0.7 H7.5" fill="none" stroke="#111" stroke-width="1.45" stroke-linecap="butt" stroke-linejoin="miter"/>
<rect x="464.50" y="414.90" width="2.2" height="2.2" fill="#111"/>
<path transform="translate(470.90,417.10)" d="M0.3,-12.8 L3.1,-14.7 M3.1,-15.3 V0" fill="none" stroke="#111" stroke-width="1.45" stroke-linecap="butt" stroke-linejoin="miter"/>
<line x1="612" y1="167" x2="824" y2="167" stroke="#000" stroke-width="2" stroke-dasharray="4 2"/>
<line x1="612" y1="349" x2="824" y2="349" stroke="#000" stroke-width="2" stroke-dasharray="4 2"/>
<line x1="821.10" y1="178.10" x2="821.10" y2="338.80" stroke="#222" stroke-width="1.7"/>
<polygon points="821.10,348.30 816.10,338.80 826.10,338.80" fill="#000"/>
<polygon points="821.10,168.60 826.10,178.10 816.10,178.10" fill="#000"/>
<path transform="translate(827.50,268.80)" d="M0.7,-7.75 A7.1,7.1 0 1 1 14.9,-7.75 A7.1,7.1 0 1 1 0.7,-7.75" fill="none" stroke="#111" stroke-width="1.45" stroke-linecap="butt" stroke-linejoin="miter"/>
<rect x="845.80" y="266.60" width="2.2" height="2.2" fill="#111"/>
<path transform="translate(850.30,268.80)" d="M0.7,-14.6 V-0.7 H5 C9.3,-0.7 12.4,-3.6 12.4,-7.65 C12.4,-11.7 9.3,-14.6 5,-14.6 Z" fill="none" stroke="#111" stroke-width="1.45" stroke-linecap="butt" stroke-linejoin="miter"/>
<rect x="865.20" y="266.60" width="2.2" height="2.2" fill="#111"/>
<path transform="translate(871.40,268.80)" d="M0.3,-12.8 L3.1,-14.7 M3.1,-15.3 V0" fill="none" stroke="#111" stroke-width="1.45" stroke-linecap="butt" stroke-linejoin="miter"/>
<line x1="723.4" y1="204.9" x2="908.5" y2="204.9" stroke="#000" stroke-width="2" stroke-dasharray="4 2"/>
<line x1="723.4" y1="310.6" x2="908.5" y2="310.6" stroke="#000" stroke-width="2" stroke-dasharray="4 2"/>
<line x1="906.40" y1="215.00" x2="906.40" y2="300.50" stroke="#222" stroke-width="1.7"/>
<polygon points="906.40,310.00 901.40,300.50 911.40,300.50" fill="#000"/>
<polygon points="906.40,205.50 911.40,215.00 901.40,215.00" fill="#000"/>
<path transform="translate(912.30,268.80)" d="M0.7,-7.75 A7.1,7.1 0 1 1 14.9,-7.75 A7.1,7.1 0 1 1 0.7,-7.75" fill="none" stroke="#111" stroke-width="1.45" stroke-linecap="butt" stroke-linejoin="miter"/>
<rect x="930.60" y="266.60" width="2.2" height="2.2" fill="#111"/>
<path transform="translate(935.10,268.80)" d="M0.7,-14.6 V-0.7 H5 C9.3,-0.7 12.4,-3.6 12.4,-7.65 C12.4,-11.7 9.3,-14.6 5,-14.6 Z" fill="none" stroke="#111" stroke-width="1.45" stroke-linecap="butt" stroke-linejoin="miter"/>
<rect x="950.00" y="266.60" width="2.2" height="2.2" fill="#111"/>
<path transform="translate(955.10,268.80)" d="M0.9,-11.2 C0.9,-13.3 2.6,-14.6 4.7,-14.6 C6.9,-14.6 8.6,-13.2 8.6,-11 C8.6,-9.6 7.9,-8.6 6.9,-7.5 L0.8,-0.7 H9.5" fill="none" stroke="#111" stroke-width="1.45" stroke-linecap="butt" stroke-linejoin="miter"/>
<line x1="342.10" y1="228.70" x2="321.09" y2="197.39" stroke="#222" stroke-width="1.6"/>
<polygon points="315.80,189.50 325.24,194.60 316.94,200.17" fill="#000"/>
<path transform="translate(245.40,170.80)" d="M0,-14.6 H8.5 M4.25,-15.3 V0" fill="none" stroke="#111" stroke-width="1.45" stroke-linecap="butt" stroke-linejoin="miter"/>
<path transform="translate(253.90,170.80)" d="M0.7,-5.65 H10.4 A4.85,4.85 0 1 0 9.27,-2.53" fill="none" stroke="#111" stroke-width="1.45" stroke-linecap="butt" stroke-linejoin="miter"/>
<path transform="translate(266.90,170.80)" d="M0.7,-5.65 H10.4 A4.85,4.85 0 1 0 9.27,-2.53" fill="none" stroke="#111" stroke-width="1.45" stroke-linecap="butt" stroke-linejoin="miter"/>
<path transform="translate(279.60,170.80)" d="M2.5,-15.5 V0 M0,-10.6 H5.2" fill="none" stroke="#111" stroke-width="1.45" stroke-linecap="butt" stroke-linejoin="miter"/>
<path transform="translate(285.80,170.80)" d="M0.7,-15.5 V0 M0.7,-6 C0.7,-8.9 2.6,-10.6 5.25,-10.6 C7.9,-10.6 9.8,-8.9 9.8,-6 V0" fill="none" stroke="#111" stroke-width="1.45" stroke-linecap="butt" stroke-linejoin="miter"/>
<path transform="translate(297.70,170.80)" d="M7,-15.5 L0.7,1.8" fill="none" stroke="#111" stroke-width="1.45" stroke-linecap="butt" stroke-linejoin="miter"/>
<path transform="translate(305.30,170.80)" d="M7.9,-12.6 C7.2,-13.9 6,-14.6 4.4,-14.6 C2.2,-14.6 0.8,-13.2 0.8,-11.1 C0.8,-9 2.4,-8.2 4.4,-7.6 C6.6,-6.9 7.8,-5.8 7.8,-3.8 C7.8,-1.9 6.3,-0.7 4.2,-0.7 C2.5,-0.7 1.2,-1.4 0.4,-2.8" fill="none" stroke="#111" stroke-width="1.45" stroke-linecap="butt" stroke-linejoin="miter"/>
<path transform="translate(316.00,170.80)" d="M0.7,-11.3 V3.8 M0.7,-5.65 A4.6,4.95 0 1 1 9.9,-5.65 A4.6,4.95 0 1 1 0.7,-5.65" fill="none" stroke="#111" stroke-width="1.45" stroke-linecap="butt" stroke-linejoin="miter"/>
<path transform="translate(329.10,170.80)" d="M0.7,-15.5 V0" fill="none" stroke="#111" stroke-width="1.45" stroke-linecap="butt" stroke-linejoin="miter"/>
<circle cx="333.10" cy="156.20" r="1" fill="#111"/>
<path transform="translate(332.40,170.80)" d="M0.7,-11.3 V0" fill="none" stroke="#111" stroke-width="1.45" stroke-linecap="butt" stroke-linejoin="miter"/>
<path transform="translate(335.60,170.80)" d="M0.7,-11.3 V0 M0.7,-6 C0.7,-8.9 2.6,-10.6 5.25,-10.6 C7.9,-10.6 9.8,-8.9 9.8,-6 V0" fill="none" stroke="#111" stroke-width="1.45" stroke-linecap="butt" stroke-linejoin="miter"/>
<path transform="translate(346.80,170.80)" d="M0.7,-5.65 H10.4 A4.85,4.85 0 1 0 9.27,-2.53" fill="none" stroke="#111" stroke-width="1.45" stroke-linecap="butt" stroke-linejoin="miter"/>
<path transform="translate(359.70,170.80)" d="M6,-9.4 C5.5,-10.2 4.6,-10.6 3.5,-10.6 C1.9,-10.6 0.8,-9.7 0.8,-8.2 C0.8,-6.7 2,-6.1 3.4,-5.7 C5,-5.2 5.8,-4.4 5.8,-2.9 C5.8,-1.5 4.7,-0.7 3.2,-0.7 C2,-0.7 1,-1.2 0.4,-2.1" fill="none" stroke="#111" stroke-width="1.45" stroke-linecap="butt" stroke-linejoin="miter"/>
<line x1="695.80" y1="204.10" x2="724.09" y2="162.08" stroke="#222" stroke-width="1.6"/>
<polygon points="729.40,154.20 728.24,164.87 719.95,159.29" fill="#000"/>
<path transform="translate(710.40,145.90)" d="M7.9,-12.6 C7.2,-13.9 6,-14.6 4.4,-14.6 C2.2,-14.6 0.8,-13.2 0.8,-11.1 C0.8,-9 2.4,-8.2 4.4,-7.6 C6.6,-6.9 7.8,-5.8 7.8,-3.8 C7.8,-1.9 6.3,-0.7 4.2,-0.7 C2.5,-0.7 1.2,-1.4 0.4,-2.8" fill="none" stroke="#111" stroke-width="1.45" stroke-linecap="butt" stroke-linejoin="miter"/>
<path transform="translate(720.80,145.90)" d="M0.7,-15.5 V0" fill="none" stroke="#111" stroke-width="1.45" stroke-linecap="butt" stroke-linejoin="miter"/>
<path transform="translate(724.00,145.90)" d="M0.7,-5.65 A4.95,4.95 0 1 1 10.6,-5.65 A4.95,4.95 0 1 1 0.7,-5.65" fill="none" stroke="#111" stroke-width="1.45" stroke-linecap="butt" stroke-linejoin="miter"/>
<path transform="translate(736.80,145.90)" d="M2.5,-15.5 V0 M0,-10.6 H5.2" fill="none" stroke="#111" stroke-width="1.45" stroke-linecap="butt" stroke-linejoin="miter"/>
<path transform="translate(742.60,145.90)" d="M6,-9.4 C5.5,-10.2 4.6,-10.6 3.5,-10.6 C1.9,-10.6 0.8,-9.7 0.8,-8.2 C0.8,-6.7 2,-6.1 3.4,-5.7 C5,-5.2 5.8,-4.4 5.8,-2.9 C5.8,-1.5 4.7,-0.7 3.2,-0.7 C2,-0.7 1,-1.2 0.4,-2.1" fill="none" stroke="#111" stroke-width="1.45" stroke-linecap="butt" stroke-linejoin="miter"/>
</svg>
<svg width="20" height="16" viewBox="0 0 20 16" style="position:absolute;left:24px;top:513.5px">
<path d="M0.5,1.2 L0.5,6.5 L8.3,14.3 C8.9,14.9 9.8,14.9 10.4,14.3 L14.6,10.1 C15.2,9.5 15.2,8.6 14.6,8 L6.8,0.2 L1.5,0.2 Z" fill="#111"/>
<circle cx="3.8" cy="3.6" r="1.4" fill="#fff"/>
<path d="M9.2,0.2 L11,0.2 L18.4,7.6 C19.0,8.2 19.0,9.1 18.4,9.7 L13.6,14.5 L12.7,13.6 L17.2,9 C17.6,8.6 17.6,8.2 17.2,7.8 Z" fill="#111"/>
</svg>
<div class="t" style="left:49px;top:514px;letter-spacing:0.3px">AS index: <b>SA0055</b></div>
<svg width="18" height="16" viewBox="0 0 18 16" style="position:absolute;left:24px;top:550.5px">
<path d="M10.2,0.8 L2.6,0.8 C1.5,0.8 0.8,1.5 0.8,2.6 L0.8,12.4 C0.8,13.5 1.5,14.2 2.6,14.2 L11.8,14.2 C12.9,14.2 13.6,13.5 13.6,12.4 L13.6,9.2" fill="none" stroke="#f0141c" stroke-width="1.6"/>
<path d="M3.4,6.4 L7.6,10.4 L15.8,2.4" fill="none" stroke="#f0141c" stroke-width="2.9"/>
</svg>
<div class="t" style="left:49.5px;top:549.5px;color:#ee1d23;font-weight:bold;letter-spacing:-0.2px">STANDARD LINE</div>
<svg width="15" height="15" viewBox="0 0 15 15" style="position:absolute;left:370.5px;top:514px">
<circle cx="7.5" cy="7.5" r="7.3" fill="#111"/>
<circle cx="7.4" cy="3.5" r="1.6" fill="#fff"/>
<path d="M5,5.8 L8.9,5.8 L8.9,10.4 L10.1,10.4 L10.1,12.3 L5,12.3 L5,10.4 L6.2,10.4 L6.2,7.6 L5,7.6 Z" fill="#fff"/>
</svg>
<div class="t" style="left:393px;top:514px;letter-spacing:0.5px">Brand new AS-PL Starter motor armature</div>
<svg width="15" height="15" viewBox="0 0 15 15" style="position:absolute;left:370.5px;top:550.8px">
<circle cx="7.5" cy="7.5" r="7.3" fill="#111"/>
<circle cx="7.4" cy="3.5" r="1.6" fill="#fff"/>
<path d="M5,5.8 L8.9,5.8 L8.9,10.4 L10.1,10.4 L10.1,12.3 L5,12.3 L5,10.4 L6.2,10.4 L6.2,7.6 L5,7.6 Z" fill="#fff"/>
</svg>
<div class="t" style="left:393px;top:550px;letter-spacing:0.55px">Product type: <b style="letter-spacing:-0.4px">Brand new</b></div>
<svg width="15" height="15" viewBox="0 0 15 15" style="position:absolute;left:824.2px;top:514.2px">
<circle cx="7.5" cy="7.5" r="7.3" fill="#111"/>
<circle cx="7.4" cy="3.5" r="1.6" fill="#fff"/>
<path d="M5,5.8 L8.9,5.8 L8.9,10.4 L10.1,10.4 L10.1,12.3 L5,12.3 L5,10.4 L6.2,10.4 L6.2,7.6 L5,7.6 Z" fill="#fff"/>
</svg>
<div class="t" style="right:226px;top:514px;letter-spacing:0.1px">Producer: <b>AS-PL</b></div>
<svg width="100" height="42" viewBox="0 0 100 42" style="position:absolute;left:876px;top:538px">
<g fill="#e8202a">
<path fill-rule="evenodd" d="M19.6,28.7 L43.2,3.3 L51,3.3 L47.5,28.7 L40.8,28.7 L41.6,23.6 L34,23.6 L29.2,28.7 Z M36.4,19.8 L42.2,19.8 L43.4,12 Z"/>
<path d="M63,2.6 C55.5,2.6 50.2,6.2 50.2,11.8 C50.2,15.6 53.5,17.2 56.5,18.2 C58.6,18.9 59.2,19.8 58.8,20.8 C58.2,22.3 55.2,22.5 52.2,21.5 L49.5,20.8 L47,28.6 C49.7,29.4 52.6,29.6 55.6,29.6 C63.6,29.6 68.8,25.8 68.8,20.2 C68.8,16.2 66,14.7 63,13.5 C61,12.8 60.3,12 60.8,11 C61.5,9.7 64.5,9.6 67.5,10.4 L69.2,11 L71,3.3 C68.8,2.8 65.6,2.6 63,2.6 Z"/>
<rect x="71" y="2.2" width="10.7" height="1.7"/>
<rect x="72.6" y="5.4" width="9.1" height="1.7"/>
<rect x="73" y="8.5" width="8.7" height="1.7"/>
<rect x="69.8" y="11.6" width="11.9" height="1.7"/>
<rect x="68.5" y="14.8" width="13.2" height="1.7"/>
<rect x="67.3" y="17.9" width="14.4" height="1.7"/>
<rect x="66" y="21" width="15.7" height="1.7"/>
<rect x="64.2" y="24.2" width="17.5" height="1.7"/>
<rect x="57.9" y="27.2" width="23.8" height="1.7"/>
</g>
<text x="3.2" y="38.3" font-size="6.2" style="fill:#666;stroke:none" textLength="90" lengthAdjust="spacingAndGlyphs">Alternators, Starters &amp; Parts</text>
</svg>
<div style="position:absolute;left:24px;top:586px;width:946px;height:1px;background:#f4f4f4"></div>
<div style="position:absolute;left:13px;top:590px;width:957px;height:174px;background:#fff;box-sizing:border-box;border:2px solid #cbcbcb;border-radius:1px"></div>
<div style="position:absolute;left:15px;top:592px;width:237.5px;height:170px;background:#e8e8e8"></div>
<div style="position:absolute;left:493.5px;top:592px;width:236.5px;height:170px;background:#e8e8e8"></div>
<div style="position:absolute;left:252.0px;top:590px;width:2px;height:174px;background:#cbcbcb"></div>
<div style="position:absolute;left:491.0px;top:590px;width:2px;height:174px;background:#cbcbcb"></div>
<div style="position:absolute;left:729.5px;top:590px;width:2px;height:174px;background:#cbcbcb"></div>
<div style="position:absolute;left:13px;top:624.5px;width:957px;height:2px;background:#cbcbcb"></div>
<div style="position:absolute;left:13px;top:659px;width:957px;height:2px;background:#cbcbcb"></div>
<div style="position:absolute;left:13px;top:693.5px;width:957px;height:2px;background:#cbcbcb"></div>
<div style="position:absolute;left:13px;top:728px;width:957px;height:2px;background:#cbcbcb"></div>
<div class="tc" style="right:951.0px;top:601.70px">Power</div>
<div class="tc" style="right:712.0px;top:601.70px">1.70 kW</div>
<div class="tc" style="right:473.5px;top:601.70px">Voltage</div>
<div class="tc" style="right:233.5px;top:601.70px">12 V</div>
<div class="tc" style="right:951.0px;top:636.20px">Teeth / Splines</div>
<div class="tc" style="right:712.0px;top:636.20px">14 qty.</div>
<div class="tc" style="right:473.5px;top:636.20px">Slots</div>
<div class="tc" style="right:233.5px;top:636.20px">23 qty.</div>
<div class="tc" style="right:951.0px;top:670.70px">O.D.1</div>
<div class="tc" style="right:712.0px;top:670.70px">55.00 mm</div>
<div class="tc" style="right:473.5px;top:670.70px">O.D.2</div>
<div class="tc" style="right:233.5px;top:670.70px">32.30 mm</div>
<div class="tc" style="right:951.0px;top:705.20px">O.D.3</div>
<div class="tc" style="right:712.0px;top:705.20px">8.00 mm</div>
<div class="tc" style="right:473.5px;top:705.20px">L.1</div>
<div class="tc" style="right:233.5px;top:705.20px">146.00 mm</div>
<div class="tc" style="right:951.0px;top:739.70px">L.2</div>
<div class="tc" style="right:712.0px;top:739.70px">14.00 mm</div>
</body></html>
